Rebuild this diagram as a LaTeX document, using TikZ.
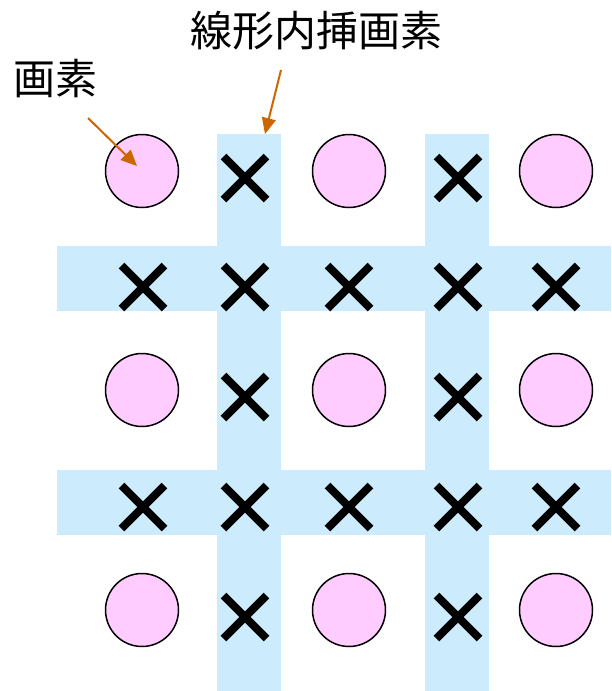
\documentclass[tikz,border=0pt]{standalone}
\usepackage{fontspec}
\newfontfamily\jpfont{Noto Sans CJK JP}
\usetikzlibrary{arrows.meta,shapes.misc}
\definecolor{bandblue}{RGB}{204,235,252}
\definecolor{pixelpink}{RGB}{255,204,255}
\definecolor{calloutorange}{RGB}{204,102,0}
\tikzset{
  pixel/.style={circle,draw=black,line width=0.75pt,fill=pixelpink,minimum size=36.5pt,inner sep=0pt},
  interp/.style={cross out,draw=black,line width=4pt,minimum size=17.5pt,inner sep=0pt},
  band/.style={fill=bandblue},
  callout/.style={draw=calloutorange,line width=1pt,-{Triangle[length=8pt,width=7pt]}},
  jptext/.style={font=\jpfont\fontsize{21}{25}\selectfont,inner sep=0pt}
}
\begin{document}
\begin{tikzpicture}[x=0.5pt,y=-0.5pt] % 1 unit = 1 px of the layout
  \useasboundingbox (0,0) rectangle (611,691);

  % Interpolation bands
  \fill[band] (217,134) rectangle (281,691);
  \fill[band] (425,134) rectangle (489,691);
  \fill[band] (57,246) rectangle (611,311);
  \fill[band] (57,470) rectangle (611,535);

  % Pixels
  \foreach \i/\x in {1/142,2/349,3/556}
    \foreach \j/\y in {1/171,2/390,3/610}
      \node[pixel] (p-\j-\i) at (\x,\y) {};

  % Interpolated pixels in the vertical bands
  \foreach \i/\x in {1/245,2/458}
    \foreach \j/\y in {1/178,2/397,3/617}
      \node[interp] (v-\j-\i) at (\x,\y) {};

  % Interpolated pixels in the horizontal bands
  \foreach \i/\x in {1/143,2/245,3/349,4/458,5/556}
    \foreach \j/\y in {1/287,2/507}
      \node[interp] (h-\j-\i) at (\x,\y) {};

  % Labels
  \node[jptext] (pixlabel) at (55,79) {画素};
  \node[jptext] (interplabel) at (316,31) {線形内挿画素};

  % Callout arrows
  \coordinate (pixtail) at (88,118);
  \coordinate (pixtip) at (137,166);
  \coordinate (interptail) at (281,70);
  \coordinate (interptip) at (265,134);
  \draw[callout] (pixtail) -- (pixtip);
  \draw[callout] (interptail) -- (interptip);
\end{tikzpicture}
\end{document}
